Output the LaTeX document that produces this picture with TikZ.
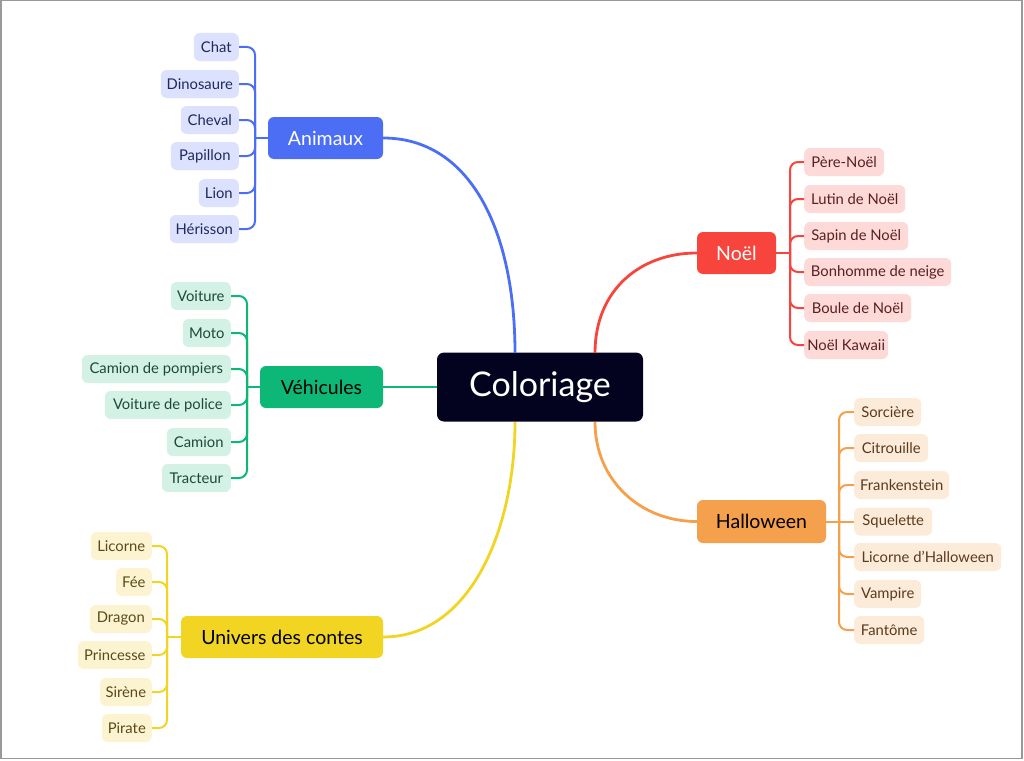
\documentclass[tikz,border=0pt]{standalone}
\usepackage{fontspec}
\setmainfont{Lato}
\definecolor{cblue}{HTML}{4C6EF5}
\definecolor{lblue}{HTML}{DCE2FD}
\definecolor{tblue}{HTML}{1E2A5E}
\definecolor{cgreen}{HTML}{0DB877}
\definecolor{lgreen}{HTML}{D3F1E5}
\definecolor{tgreen}{HTML}{1B4A3A}
\definecolor{cyellow}{HTML}{F2D423}
\definecolor{lyellow}{HTML}{FCF4D0}
\definecolor{tyellow}{HTML}{5A4A1A}
\definecolor{cred}{HTML}{F7453D}
\definecolor{lred}{HTML}{FDD9D7}
\definecolor{tred}{HTML}{5A2020}
\definecolor{corange}{HTML}{F5A04C}
\definecolor{lorange}{HTML}{FDEBDA}
\definecolor{torange}{HTML}{5A3A1C}
\definecolor{navy}{HTML}{03031F}
\definecolor{frame}{HTML}{999999}
\tikzset{
  mainbox/.style={rounded corners=6pt, inner sep=0pt, minimum height=42pt, font=\fontsize{19.5}{22}\selectfont},
  child/.style={rounded corners=6pt, inner sep=0pt, minimum height=28pt, font=\fontsize{14.8}{17}\selectfont},
  achild/.style={child, fill=lblue, text=tblue, anchor=east},
  vchild/.style={child, fill=lgreen, text=tgreen, anchor=east},
  uchild/.style={child, fill=lyellow, text=tyellow, anchor=east},
  nchild/.style={child, fill=lred, text=tred, anchor=west},
  hchild/.style={child, fill=lorange, text=torange, anchor=west},
  ctr/.style={line width=2.8pt},
  br/.style={line width=2pt, rounded corners=8pt},
}
\begin{document}
\begin{tikzpicture}[x=1pt,y=-1pt]
\useasboundingbox (0,0) rectangle (1024,760);
\draw[frame, line width=1.5pt] (0.75,0.75) rectangle (1022,758.5);

\coordinate (cNW) at (515,353);
\coordinate (cNE) at (595,353);
\coordinate (cSW) at (515,422);
\coordinate (cSE) at (595,422);

% central node
\node[rounded corners=7pt, fill=navy, text=white, minimum width=206pt, minimum height=69pt, inner sep=0pt, font=\fontsize{34}{38}\selectfont] (C) at (540,387) {Coloriage};

% main branch nodes
\node[mainbox, fill=cblue, text=white, minimum width=115pt] (A) at (325.5,138) {Animaux};
\node[mainbox, fill=cgreen, text=black, minimum width=123pt] (V) at (321.5,387) {Véhicules};
\node[mainbox, fill=cyellow, text=black, minimum width=202pt] (U) at (282,637) {Univers des contes};
\node[mainbox, fill=cred, text=white, minimum width=79pt] (N) at (736.5,253) {Noël};
\node[mainbox, fill=corange, text=black, minimum width=129pt, minimum height=43pt] (H) at (761.5,521.5) {Halloween};

\draw[ctr, cblue] (cNW) .. controls (515,230) and (470,138) .. (A.east);
\draw[ctr, cgreen] (C.west) -- (V.east);
\draw[ctr, cyellow] (cSW) .. controls (515,530) and (470,637) .. (U.east);
\draw[ctr, cred] (cNE) .. controls (595,290) and (640,253) .. (N.west);
\draw[ctr, corange] (cSE) .. controls (595,480) and (640,521.5) .. (H.west);

% Animaux children
\node[achild, minimum width=45pt] (a1) at (239,47) {Chat};
\node[achild, minimum width=78pt] (a2) at (239,84) {Dinosaure};
\node[achild, minimum width=58pt] (a3) at (239,120) {Cheval};
\node[achild, minimum width=68pt] (a4) at (239,156) {Papillon};
\node[achild, minimum width=40pt] (a5) at (239,193) {Lion};
\node[achild, minimum width=69pt] (a6) at (239,229) {Hérisson};
\coordinate (aT) at (255,138);
\foreach \n in {a1,a2,a3,a4,a5,a6} \draw[br, cblue] (\n.east) -| (aT);
\draw[br, cblue] (aT) -- (A.west);

% Vehicules children
\node[vchild, minimum width=60pt] (v1) at (231,296) {Voiture};
\node[vchild, minimum width=48pt] (v2) at (231,333) {Moto};
\node[vchild, minimum width=149pt] (v3) at (231,369) {Camion de pompiers};
\node[vchild, minimum width=126pt] (v4) at (231,405) {Voiture de police};
\node[vchild, minimum width=64pt] (v5) at (231,442) {Camion};
\node[vchild, minimum width=69pt] (v6) at (231,478) {Tracteur};
\coordinate (vT) at (247,387);
\foreach \n in {v1,v2,v3,v4,v5,v6} \draw[br, cgreen] (\n.east) -| (vT);
\draw[br, cgreen] (vT) -- (V.west);

% Univers children
\node[uchild, minimum width=61pt] (u1) at (152,546) {Licorne};
\node[uchild, minimum width=36pt] (u2) at (152,582) {Fée};
\node[uchild, minimum width=62pt] (u3) at (152,619) {Dragon};
\node[uchild, minimum width=74pt] (u4) at (152,655) {Princesse};
\node[uchild, minimum width=52pt] (u5) at (152,692) {Sirène};
\node[uchild, minimum width=50pt] (u6) at (152,728) {Pirate};
\coordinate (uT) at (167,637);
\foreach \n in {u1,u2,u3,u4,u5,u6} \draw[br, cyellow] (\n.east) -| (uT);
\draw[br, cyellow] (uT) -- (U.west);

% Noel children
\node[nchild, minimum width=80pt] (n1) at (804,162) {Père-Noël};
\node[nchild, minimum width=101pt] (n2) at (804,199) {Lutin de Noël};
\node[nchild, minimum width=104pt] (n3) at (804,236) {Sapin de Noël};
\node[nchild, minimum width=147pt] (n4) at (804,272) {Bonhomme de neige};
\node[nchild, minimum width=107pt] (n5) at (804,308) {Boule de Noël};
\node[nchild, minimum width=84pt] (n6) at (804,345) {Noël Kawaii};
\coordinate (nT) at (790,253);
\foreach \n in {n1,n2,n3,n4,n5,n6} \draw[br, cred] (\n.west) -| (nT);
\draw[br, cred] (nT) -- (N.east);

% Halloween children
\node[hchild, minimum width=67pt] (h1) at (854,412) {Sorcière};
\node[hchild, minimum width=74pt] (h2) at (854,448) {Citrouille};
\node[hchild, minimum width=95pt] (h3) at (854,485) {Frankenstein};
\node[hchild, minimum width=78pt] (h4) at (854,521.5) {Squelette};
\node[hchild, minimum width=147pt] (h5) at (854,557) {Licorne d'Halloween};
\node[hchild, minimum width=67pt] (h6) at (854,594) {Vampire};
\node[hchild, minimum width=70pt] (h7) at (854,630) {Fantôme};
\coordinate (hT) at (839,521.5);
\foreach \n in {h1,h2,h3,h5,h6,h7} \draw[br, corange] (\n.west) -| (hT);
\draw[br, corange] (h4.west) -- (H.east);
\end{tikzpicture}
\end{document}
